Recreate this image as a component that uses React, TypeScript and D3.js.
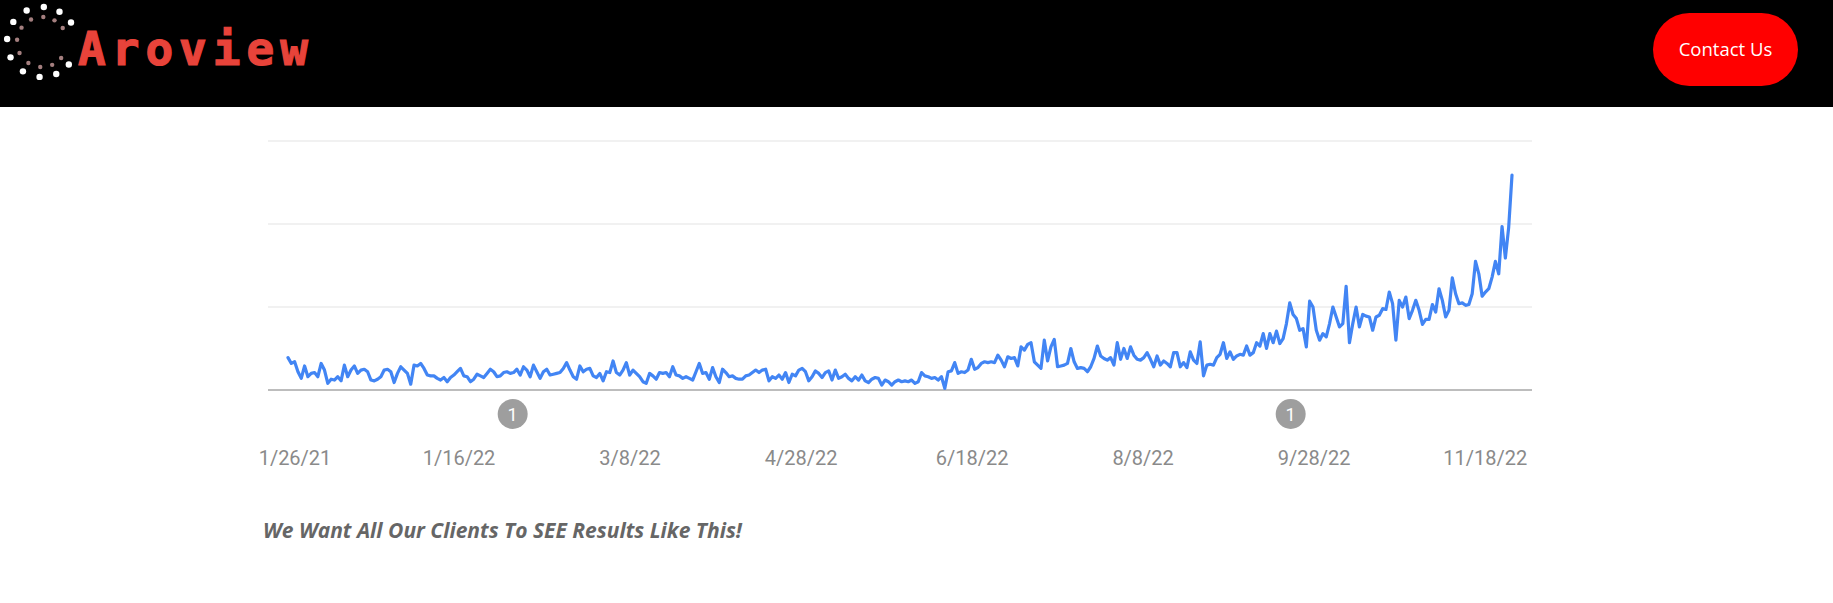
import { useMemo } from 'react'
import * as d3 from 'd3'

const W = 1833
const H = 603
const HEADER_H = 107
const PLOT = { left: 268, right: 1532, top: 141, bottom: 390 }
const LINE_RANGE: [number, number] = [288, 1512]

// daily clicks, split by stretch of the year
const winterClicks = [
  39, 32, 34, 22, 14, 29, 16, 20, 21, 16, 32, 24, 8, 13, 12, 16, 11, 30, 16, 24,
  29, 20, 24, 25, 22, 12, 11, 13, 16, 24, 25, 22, 9, 20, 28, 24, 20, 7, 30, 29,
  32, 26, 18, 17, 17, 14, 12, 15, 10, 15, 18, 22, 26, 17, 16, 10, 13, 19, 17, 15,
  20, 25, 22, 16, 17, 21, 22, 20,
]
const springClicks = [
  21, 25, 18, 28, 24, 16, 30, 22, 14, 22, 25, 18, 19, 20, 21, 26, 33, 24, 16, 13,
  29, 22, 25, 26, 17, 15, 20, 11, 22, 21, 35, 21, 18, 24, 33, 18, 24, 20, 16, 10,
  8, 20, 17, 13, 21, 20, 21, 16, 28, 18, 17, 14, 16, 14, 12, 22, 32, 20, 21, 13,
  27, 16, 9, 25, 21, 16, 17, 14, 13, 13, 17, 18, 21, 24,
]
const earlySummerClicks = [
  21, 24, 25, 11, 16, 14, 18, 13, 21, 9, 19, 17, 24, 26, 22, 11, 16, 23, 20, 15,
  21, 23, 12, 24, 14, 16, 19, 14, 11, 16, 12, 18, 11, 9, 13, 15, 14, 6, 12, 10,
  6, 10, 12, 10, 11, 10, 12, 8, 10, 21, 17, 16, 14, 15, 12, 16, 2, 22, 23, 33,
  20, 22, 21, 24, 37, 25, 27, 32, 34, 33, 34, 33, 42, 36, 28, 40, 38,
]
const lateSummerClicks = [
  39, 29, 52, 48, 55, 57, 34, 30, 26, 60, 35, 52, 61, 28, 29, 30, 32, 50, 34, 26,
  27, 26, 22, 28, 38, 53, 41, 38, 36, 39, 30, 57, 37, 50, 38, 52, 42, 37, 36, 39,
  45, 37, 28, 41, 30, 35, 32, 28, 45, 45, 28, 33, 27, 46, 36, 32, 58, 17, 30, 31,
  30, 39, 43, 57, 38, 46, 37, 41, 43, 42, 53, 42, 45, 57, 53, 68,
]
const autumnClicks = [
  50, 68, 57, 71, 56, 62, 80, 105, 91, 86, 72, 74, 52, 107, 100, 72, 60, 68, 64, 80,
  100, 88, 76, 80, 125, 57, 80, 100, 76, 91, 89, 88, 72, 88, 90, 98, 97, 118, 104, 60,
  108, 100, 112, 86, 96, 108, 96, 79, 85, 85, 103, 94, 122, 108, 88, 96, 135, 116, 104, 105,
  102, 103, 116, 155, 140, 113, 118, 122, 136, 155, 140, 197, 159, 196, 259,
]

const START_DATE = '2021-11-26'
const END_DATE = '2022-11-26'
const TICK_DATES = ['2021-11-26', '2022-01-16', '2022-03-08', '2022-04-28', '2022-06-18', '2022-08-08', '2022-09-28', '2022-11-18']
const TICK_LABELS = ['1/26/21', '1/16/22', '3/8/22', '4/28/22', '6/18/22', '8/8/22', '9/28/22', '11/18/22']
const GRID_VALUES = [100, 200, 300]
const NOTE_DATES = ['2022-02-01', '2022-09-21']
const NOTE_LABELS = ['1', '1']

// logo: angles (deg) of the two dotted rings
const LOGO_ANGLES = [-34, -60, -87, -116, -145, -175, 154, 123, 94, 66, 40]

const parse = d3.utcParse('%Y-%m-%d')

export default function App() {
  const clicks = useMemo(
    () => [...winterClicks, ...springClicks, ...earlySummerClicks, ...lateSummerClicks, ...autumnClicks],
    [],
  )

  const x = d3.scaleUtc().domain([parse(START_DATE)!, parse(END_DATE)!]).range(LINE_RANGE)
  const y = d3.scaleLinear().domain([0, 300]).range([PLOT.bottom, PLOT.top])

  const t0 = parse(START_DATE)!.getTime()
  const t1 = parse(END_DATE)!.getTime()
  const step = (t1 - t0) / (clicks.length - 1)

  const path = d3
    .line<number>()
    .x((_, i) => x(new Date(t0 + i * step)))
    .y((v) => y(v))(clicks)

  return (
    <div style={{ position: 'absolute', left: 0, top: 0 }}>
      <svg width={W} height={H} style={{ display: 'block', background: '#fff' }}>
        {/* header */}
        <rect x={0} y={0} width={W} height={HEADER_H} fill="#000" />
        <g transform="translate(42,42)">
          {LOGO_ANGLES.map((a) => {
            const r = (a * Math.PI) / 180
            return (
              <g key={a}>
                <circle cx={Math.cos(r) * 35} cy={Math.sin(r) * 35} r={3.2} fill="#fff" />
                <circle cx={Math.cos(r) * 25} cy={Math.sin(r) * 25} r={2.2} fill="#a47f7f" />
              </g>
            )
          })}
        </g>
        <text
          x={78}
          y={65}
          fill="#e8433a"
          stroke="#e8433a"
          strokeWidth={1.2}
          fontFamily="'DejaVu Sans Mono', monospace"
          fontWeight="bold"
          fontSize={46}
          letterSpacing={6}
        >
          Aroview
        </text>
        <rect x={1653} y={13} width={145} height={73} rx={36.5} fill="#ff0000" />
        <text
          x={1725.5}
          y={56}
          textAnchor="middle"
          fill="#fff"
          fontFamily="'Open Sans', sans-serif"
          fontSize={18.5}
        >
          Contact Us
        </text>

        {/* grid */}
        {GRID_VALUES.map((v) => (
          <line key={v} x1={PLOT.left} x2={PLOT.right} y1={y(v)} y2={y(v)} stroke="#ececec" strokeWidth={1.5} />
        ))}
        <line x1={PLOT.left} x2={PLOT.right} y1={y(0)} y2={y(0)} stroke="#bdbdbd" strokeWidth={2} />

        {/* series */}
        <path d={path ?? ''} fill="none" stroke="#4285f4" strokeWidth={3.2} strokeLinejoin="round" strokeLinecap="round" />

        {/* annotations */}
        {NOTE_DATES.map((d, i) => {
          const cx = x(parse(d)!)
          return (
            <g key={d}>
              <circle cx={cx} cy={414} r={15} fill="#9e9e9e" />
              <text x={cx} y={420.5} textAnchor="middle" fill="#fff" fontFamily="Roboto, sans-serif" fontSize={18}>
                {NOTE_LABELS[i]}
              </text>
            </g>
          )
        })}

        {/* x axis labels */}
        {TICK_DATES.map((d, i) => (
          <text
            key={d}
            x={x(parse(d)!)}
            dx={i === 0 ? 7 : 0}
            y={465}
            textAnchor="middle"
            fill="#8a8a8a"
            fontFamily="Roboto, sans-serif"
            fontSize={20}
          >
            {TICK_LABELS[i]}
          </text>
        ))}

        <text
          x={263}
          y={538}
          fill="#666"
          fontFamily="'Open Sans', sans-serif"
          fontWeight="bold"
          fontStyle="italic"
          fontSize={21}
        >
          We Want All Our Clients To SEE Results Like This!
        </text>
      </svg>
    </div>
  )
}
